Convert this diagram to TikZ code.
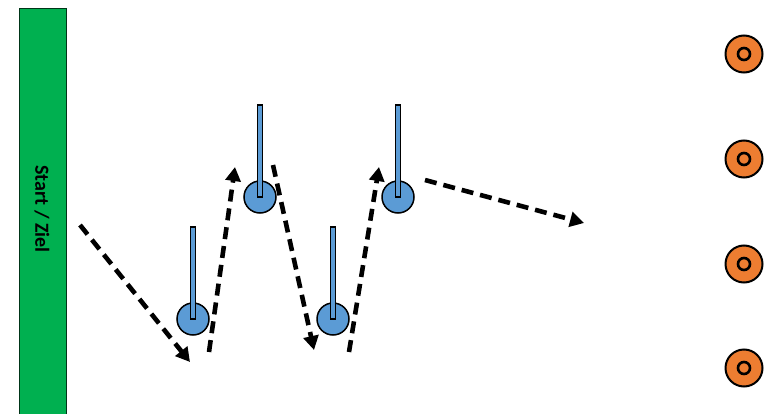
\documentclass[tikz,border=0pt]{standalone}
\usepackage{fontspec}
\setmainfont{Carlito}
\usetikzlibrary{arrows.meta}
\definecolor{bargreen}{HTML}{00B050}
\definecolor{poleblue}{HTML}{5B9BD5}
\definecolor{coneorange}{HTML}{ED7D31}
\tikzset{
  px/.style={x=1pt,y=-1pt},
  polebase/.style={circle,draw=black,line width=1.5pt,fill=poleblue,minimum size=32pt,inner sep=0pt},
  polestick/.style={draw=black,line width=1.1pt,fill=poleblue},
  cone/.style={circle,draw=black,line width=2pt,fill=coneorange,minimum size=37pt,inner sep=0pt},
  conehole/.style={circle,draw=black,line width=2.6pt,fill=coneorange,minimum size=12pt,inner sep=0pt},
  run/.style={draw=black,line width=4.6pt,dash pattern=on 12pt off 7pt,-{Triangle[length=14pt,width=15pt]}},
}
\begin{document}
\begin{tikzpicture}[px]
\useasboundingbox (0,0) rectangle (765,414);
\clip (0,0) rectangle (765,414);
% start bar
\node[draw=black!70!bargreen,line width=1pt,fill=bargreen,minimum width=47pt,minimum height=420pt,inner sep=0pt,anchor=north] (bar) at (42.5,8) {};
\node[rotate=-90,font=\bfseries\fontsize{20}{20}\selectfont] (lbl) at (42,209) {Start / Ziel};
% poles
\foreach \n/\x/\y/\t in {p1/193/319/227, p2/260/197/105, p3/333/319/227, p4/398/197/105}{
  \node[polebase] (\n) at (\x,\y) {};
  \filldraw[polestick] (\x-2.6,\t) rectangle (\x+2.6,\y);
}
% cones
\foreach \n/\y in {c1/54, c2/159, c3/264, c4/368}{
  \node[cone] (\n) at (744,\y) {};
  \node[conehole] (\n h) at (744,\y) {};
}
% run path
\coordinate (a0) at (80,225);
\coordinate (a1) at (190,362);
\coordinate (b0) at (209,352);
\coordinate (b1) at (235,167);
\coordinate (d0) at (273,165);
\coordinate (d1) at (314,350);
\coordinate (e0) at (349,352);
\coordinate (e1) at (379,167);
\coordinate (f0) at (425,180);
\coordinate (f1) at (584,223);
\draw[run] (a0) -- (a1);
\draw[run] (b0) -- (b1);
\draw[run] (d0) -- (d1);
\draw[run] (e0) -- (e1);
\draw[run] (f0) -- (f1);
\end{tikzpicture}
\end{document}
